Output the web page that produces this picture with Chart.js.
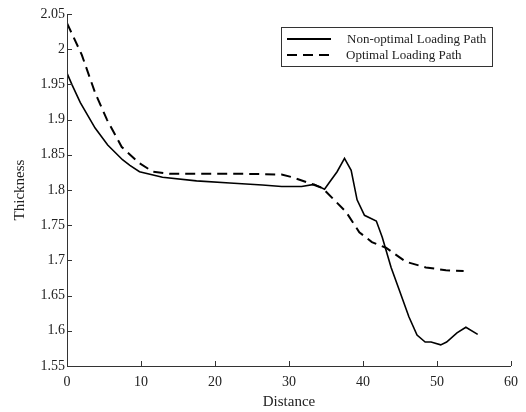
<!DOCTYPE html>
<html lang="en">
<head>
  <meta charset="UTF-8" />
  <title>Thickness vs Distance</title>
  <script src="https://cdn.jsdelivr.net/npm/chart.js"></script>
  <style>
    body { margin: 0; background: #fff; }
    #wrap { width: 526px; height: 412px; }
  </style>
</head>
<body>
  <div id="wrap"><canvas id="chart" width="526" height="412"></canvas></div>

  <script>
    // Non-optimal loading path (solid)
    const solidX = [0, 0.7, 1.8, 3.8, 5.5, 7.5, 8.5, 9.8, 12.9, 17.5, 22, 26.4, 29, 31.7, 33.4, 34.8, 35.4, 36.5, 37.5, 38.4, 39.2, 40.2, 41.8, 42.6, 43.8, 44.9, 46.2, 47.3, 48.4, 49.2, 50.5, 51.3, 52.7, 53.9, 55.5];
    const solidY = [1.966, 1.949, 1.924, 1.888, 1.864, 1.843, 1.835, 1.826, 1.818, 1.813, 1.810, 1.807, 1.805, 1.805, 1.808, 1.801, 1.81, 1.826, 1.845, 1.828, 1.786, 1.764, 1.756, 1.733, 1.69, 1.658, 1.62, 1.594, 1.584, 1.584, 1.58, 1.584, 1.597, 1.605, 1.595];

    // Optimal loading path (dashed)
    const dashX = [0, 2, 3.8, 5.4, 7.4, 9.8, 11.6, 14, 18, 24, 29, 30.5, 32.7, 34.5, 36.1, 37.7, 39.5, 41.2, 43.1, 45.8, 48.5, 51.2, 53.6];
    const dashY = [2.037, 1.992, 1.938, 1.90, 1.861, 1.838, 1.826, 1.823, 1.823, 1.823, 1.822, 1.818, 1.81, 1.803, 1.786, 1.769, 1.74, 1.726, 1.718, 1.698, 1.69, 1.686, 1.685];

    const seriesNames = ['Non-optimal Loading Path', 'Optimal Loading Path'];
    const xTitle = 'Distance';
    const yTitle = 'Thickness';

    const toPoints = (xs, ys) => xs.map((x, i) => ({ x: x, y: ys[i] }));
    const serif = '"Liberation Serif", "Times New Roman", serif';
    const textColor = '#222';

    // left + bottom axis lines with inward tick marks
    const axesPlugin = {
      id: 'axes',
      afterDraw(chart) {
        const ctx = chart.ctx;
        const a = chart.chartArea;
        const xs = chart.scales.x, ys = chart.scales.y;
        ctx.save();
        ctx.strokeStyle = '#333';
        ctx.lineWidth = 1;
        ctx.beginPath();
        ctx.moveTo(a.left + 0.5, a.top);
        ctx.lineTo(a.left + 0.5, a.bottom + 0.5);
        ctx.lineTo(a.right, a.bottom + 0.5);
        xs.ticks.forEach(t => {
          const px = Math.round(xs.getPixelForValue(t.value)) + 0.5;
          ctx.moveTo(px, a.bottom);
          ctx.lineTo(px, a.bottom - 5);
        });
        ys.ticks.forEach(t => {
          const py = Math.round(ys.getPixelForValue(t.value)) + 0.5;
          ctx.moveTo(a.left, py);
          ctx.lineTo(a.left + 5, py);
        });
        ctx.stroke();
        ctx.restore();
      }
    };

    // boxed legend in the upper right
    const legendPlugin = {
      id: 'boxLegend',
      afterDraw(chart) {
        const ctx = chart.ctx;
        const bx = 281, by = 27, bw = 211, bh = 39;
        ctx.save();
        ctx.fillStyle = '#fff';
        ctx.fillRect(bx, by, bw, bh);
        ctx.strokeStyle = '#333';
        ctx.lineWidth = 1;
        ctx.strokeRect(bx + 0.5, by + 0.5, bw, bh);
        ctx.font = '13px ' + serif;
        ctx.textBaseline = 'middle';
        chart.data.datasets.forEach((ds, i) => {
          const y = by + 12 + i * 16;
          ctx.strokeStyle = ds.borderColor;
          ctx.lineWidth = 2;
          ctx.setLineDash(ds.borderDash || []);
          ctx.beginPath();
          ctx.moveTo(bx + 6, y);
          ctx.lineTo(bx + 50, y);
          ctx.stroke();
          ctx.setLineDash([]);
          ctx.fillStyle = textColor;
          ctx.fillText(ds.label, bx + 66 - i, y + 1);
        });
        ctx.restore();
      }
    };

    new Chart(document.getElementById('chart'), {
      type: 'scatter',
      data: {
        datasets: [
          {
            label: seriesNames[0],
            data: toPoints(solidX, solidY),
            showLine: true,
            borderColor: '#000',
            borderWidth: 1.6,
            pointRadius: 0,
            tension: 0
          },
          {
            label: seriesNames[1],
            data: toPoints(dashX, dashY),
            showLine: true,
            borderColor: '#000',
            borderWidth: 2,
            borderDash: [10, 6],
            pointRadius: 0,
            tension: 0
          }
        ]
      },
      options: {
        responsive: false,
        animation: false,
        layout: { autoPadding: false, padding: { left: 0, top: 14, right: 14, bottom: 0 } },
        plugins: { legend: { display: false }, tooltip: { enabled: false } },
        scales: {
          x: {
            type: 'linear',
            min: 0, max: 60,
            grid: { display: false, drawTicks: false },
            border: { display: false },
            ticks: { stepSize: 10, padding: 8, color: textColor, font: { family: serif, size: 14 } },
            title: { display: true, text: xTitle, color: textColor, font: { family: serif, size: 15 }, padding: { top: 0, bottom: 1 } },
            afterFit: s => { s.height = 46; }
          },
          y: {
            type: 'linear',
            min: 1.55, max: 2.05,
            grid: { display: false, drawTicks: false },
            border: { display: false },
            ticks: {
              stepSize: 0.05, padding: 2, color: textColor, font: { family: serif, size: 14 },
              callback: v => String(Math.round(v * 100) / 100)
            },
            title: { display: true, text: yTitle, color: textColor, font: { family: serif, size: 15 }, padding: { top: 11, bottom: 0 } },
            afterFit: s => { s.width = 67; }
          }
        }
      },
      plugins: [axesPlugin, legendPlugin]
    });
  </script>
</body>
</html>
